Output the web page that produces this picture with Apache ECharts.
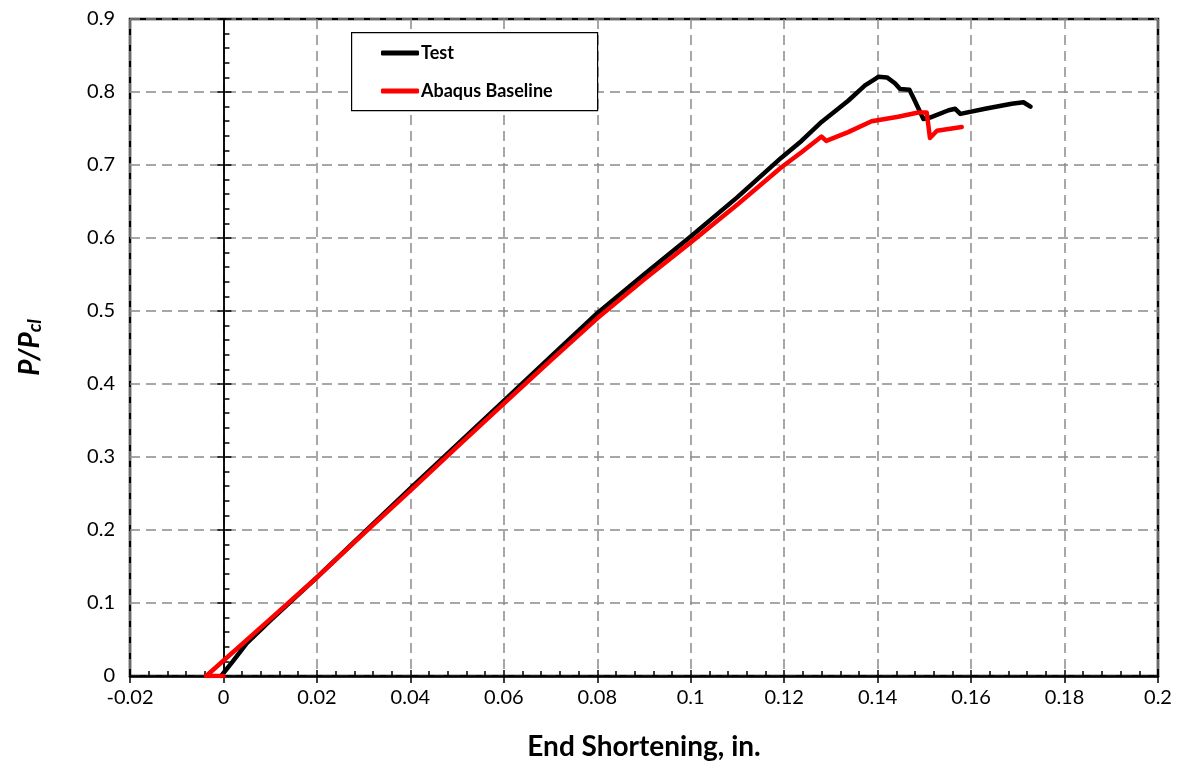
<!DOCTYPE html>
<html>
<head>
<meta charset="utf-8">
<script src="https://cdn.jsdelivr.net/npm/echarts@6/dist/echarts.min.js"></script>
<style>
  html, body { margin: 0; padding: 0; background: #fff; }
  #chart { width: 1180px; height: 766px; }
</style>
</head>
<body>
<div id="chart"></div>
<script>
// End shortening (in.) vs normalized load P/Pcl
const testX = [-0.0005, 0.002, 0.005, 0.01, 0.02, 0.03, 0.04, 0.05, 0.06, 0.07, 0.08, 0.09, 0.1, 0.11,
  0.1194, 0.1237, 0.128, 0.1337, 0.1373, 0.1395, 0.1402, 0.142, 0.1437, 0.1448, 0.1468,
  0.1478, 0.1498, 0.1512, 0.1552, 0.1566, 0.1577, 0.163, 0.1687, 0.1712, 0.1727];
const testY = [0, 0.02, 0.045, 0.076, 0.135, 0.196, 0.257, 0.317, 0.377, 0.437, 0.497, 0.55, 0.602, 0.656,
  0.71, 0.733, 0.759, 0.788, 0.809, 0.818, 0.821, 0.82, 0.812, 0.804, 0.803,
  0.79, 0.763, 0.765, 0.775, 0.777, 0.77, 0.777, 0.784, 0.786, 0.78];

const abaqusX = [0, -0.0037, 0.01, 0.02, 0.03, 0.04, 0.05, 0.06, 0.07, 0.08, 0.09, 0.1, 0.11,
  0.1194, 0.1237, 0.128, 0.129, 0.1337, 0.1387, 0.1444, 0.1487, 0.1505, 0.1512, 0.1527, 0.158];
const abaqusY = [0, 0, 0.078, 0.135, 0.195, 0.254, 0.314, 0.373, 0.432, 0.49, 0.543, 0.594, 0.646,
  0.697, 0.7175, 0.739, 0.733, 0.745, 0.76, 0.766, 0.772, 0.772, 0.737, 0.747, 0.752];

const seriesNames = ['Test', 'Abaqus Baseline'];
const seriesColors = ['#000000', '#ff0000'];

const xMin = -0.02, xMax = 0.2, xStep = 0.02;
const yMin = 0, yMax = 0.9, yStep = 0.1;

const zip = (xs, ys) => xs.map((x, i) => [x, ys[i]]);

const FONT = 'Lato, "Liberation Sans", sans-serif';
const gridDash = { color: '#8a8a8a', width: 1.5, type: [10, 6] };

const chart = echarts.init(document.getElementById('chart'), null, { renderer: 'canvas' });

chart.setOption({
  animation: false,
  backgroundColor: '#fff',
  grid: {
    left: 130, top: 19, right: 22, bottom: 90,
    show: true, borderColor: '#000', borderWidth: 2.5,
    containLabel: false, outerBoundsMode: 'none'
  },
  legend: {
    orient: 'vertical',
    left: 376, top: 39,
    itemWidth: 38, itemHeight: 5, itemGap: 20,
    icon: 'roundRect',
    textStyle: { fontFamily: FONT, fontSize: 18, fontWeight: 'bold', color: '#000', padding: [0, 0, 0, -3] },
    data: seriesNames
  },
  graphic: [{
    type: 'rect', left: 351, top: 32, z: 1,
    shape: { width: 246, height: 78 },
    style: { fill: '#fff', stroke: '#000', lineWidth: 1.2 }
  }],
  xAxis: [{
    type: 'value', min: xMin, max: xMax, interval: xStep, position: 'bottom',
    name: 'End Shortening, in.', nameLocation: 'middle', nameGap: 57,
    nameTextStyle: { fontFamily: FONT, fontSize: 28, fontWeight: 'bold', color: '#000' },
    axisLine: { show: true, onZero: false, lineStyle: { color: '#000', width: 2.5 } },
    axisTick: { show: true, inside: false, length: 7, lineStyle: { color: '#000', width: 1.5 } },
    axisLabel: { fontFamily: FONT, fontSize: 20, color: '#000', margin: 12 },
    splitLine: { show: true, lineStyle: gridDash }
  }, {
    type: 'value', min: xMin, max: xMax, interval: xStep, position: 'bottom',
    axisLine: { show: false, onZero: false },
    axisTick: { show: true, inside: true, length: 6, lineStyle: { color: '#000', width: 1.5 } },
    minorTick: { show: true, splitNumber: 5, length: 5, lineStyle: { color: '#000', width: 1.5 } },
    axisLabel: { show: false },
    splitLine: { show: false }
  }],
  yAxis: [{
    type: 'value', min: yMin, max: yMax, interval: yStep, position: 'left',
    name: '{a|P/P}{b|cl}', nameLocation: 'middle', nameGap: 86, nameRotate: 90,
    nameTextStyle: {
      rich: {
        a: { fontFamily: FONT, fontSize: 28, fontWeight: 'bold', fontStyle: 'italic', color: '#000' },
        b: { fontFamily: FONT, fontSize: 19, fontWeight: 'bold', fontStyle: 'italic', color: '#000', verticalAlign: 'bottom', padding: [9, 0, 0, 0] }
      }
    },
    axisLine: { show: false },
    axisTick: { show: false },
    axisLabel: { fontFamily: FONT, fontSize: 20, color: '#000', margin: 15 },
    splitLine: { show: true, lineStyle: gridDash }
  }, {
    // vertical zero line with inward (right) ticks
    type: 'value', min: yMin, max: yMax, interval: yStep, position: 'left',
    axisLine: { show: true, onZero: true, onZeroAxisIndex: 0, lineStyle: { color: '#000', width: 1.5 } },
    axisTick: { show: true, inside: true, length: 8, lineStyle: { color: '#000', width: 1.5 } },
    minorTick: { show: true, splitNumber: 5, length: 6, lineStyle: { color: '#000', width: 1.5 } },
    axisLabel: { show: false },
    splitLine: { show: false }
  }, {
    // outward (left) half of the major ticks on the zero line
    type: 'value', min: yMin, max: yMax, interval: yStep, position: 'left',
    axisLine: { show: true, onZero: true, onZeroAxisIndex: 0, lineStyle: { color: '#000', width: 1.5 } },
    axisTick: { show: true, inside: false, length: 6, lineStyle: { color: '#000', width: 1.5 } },
    axisLabel: { show: false },
    splitLine: { show: false }
  }],
  series: [{
    name: seriesNames[0], type: 'line', xAxisIndex: 0, yAxisIndex: 0,
    data: zip(testX, testY),
    showSymbol: false, symbol: 'none', z: 3,
    color: seriesColors[0],
    lineStyle: { color: seriesColors[0], width: 4.5, cap: 'round', join: 'round' }
  }, {
    name: seriesNames[1], type: 'line', xAxisIndex: 0, yAxisIndex: 0,
    data: zip(abaqusX, abaqusY),
    showSymbol: false, symbol: 'none', z: 4,
    color: seriesColors[1],
    lineStyle: { color: seriesColors[1], width: 4.5, cap: 'round', join: 'round' }
  }]
});
</script>
</body>
</html>
